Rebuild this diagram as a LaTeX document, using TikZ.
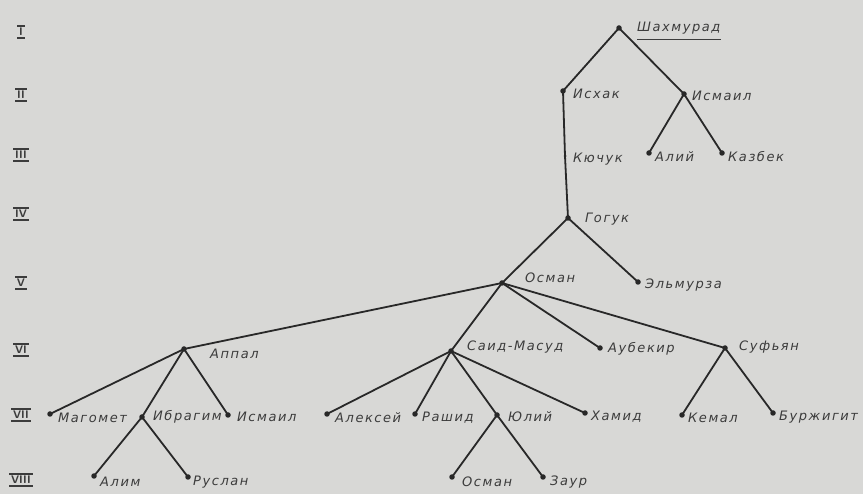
\documentclass[tikz,border=0pt]{standalone}
\usepackage{fontspec}
\newfontfamily\lblfont[LetterSpace=12]{DejaVu Sans}
\definecolor{bg}{RGB}{216,216,214}
\definecolor{ink}{RGB}{40,40,40}
\definecolor{txt}{RGB}{60,60,60}
\begin{document}
\begin{tikzpicture}[x=1pt,y=-1pt,
  dot/.style={circle,fill=ink,inner sep=0pt,minimum size=5.5pt},
  edge/.style={draw=ink,line width=1.8pt},
  person/.style={anchor=west,inner sep=0pt,text=txt,font=\lblfont\itshape\fontsize{13}{15}\selectfont},
  roman/.style={inner xsep=1.5pt,inner ysep=2pt,text=txt,font=\fontsize{11}{12}\selectfont\sffamily\bfseries}]
\path[fill=bg] (0,0) rectangle (863,494);
\useasboundingbox (0,0) rectangle (863,494);
% level marks
\foreach \n/\t/\yy in {r1/I/32,r2/II/95,r3/III/155,r4/IV/214,r5/V/283,r6/VI/350,r7/VII/415,r8/VIII/480}{
  \node[roman] (\n) at (21,\yy) {\t};
  \draw[txt,line width=1.1pt] (\n.north west) -- (\n.north east);
  \draw[txt,line width=1.1pt] (\n.south west) -- (\n.south east);
}
% dots
\node[dot] (shah) at (619,28) {};
\node[dot] (isxak) at (563,91) {};
\node[dot] (ismail) at (684,94) {};
\node[dot] (aliy) at (649,153) {};
\node[dot] (kazbek) at (722,153) {};
\node[dot,minimum size=3pt] (kuchuk) at (565,156) {};
\node[dot] (goguk) at (568,218) {};
\node[dot] (osman) at (502,283) {};
\node[dot] (elmurza) at (638,282) {};
\node[dot] (appal) at (184,349) {};
\node[dot] (said) at (451,351) {};
\node[dot] (aubekir) at (600,348) {};
\node[dot] (sufyan) at (725,348) {};
\node[dot] (magomet) at (50,414) {};
\node[dot] (ibragim) at (142,417) {};
\node[dot] (ismail2) at (228,415) {};
\node[dot] (aleksey) at (327,414) {};
\node[dot] (rashid) at (415,414) {};
\node[dot] (yuliy) at (497,415) {};
\node[dot] (hamid) at (585,413) {};
\node[dot] (kemal) at (682,415) {};
\node[dot] (burzhigit) at (773,413) {};
\node[dot] (alim) at (94,476) {};
\node[dot] (ruslan) at (188,477) {};
\node[dot] (osman2) at (452,477) {};
\node[dot] (zaur) at (543,477) {};
% edges
\draw[edge] (shah.center) -- (isxak.center);
\draw[edge] (shah.center) -- (ismail.center);
\draw[edge] (isxak.center) -- (kuchuk.center);
\draw[edge] (ismail.center) -- (aliy.center);
\draw[edge] (ismail.center) -- (kazbek.center);
\draw[edge] (kuchuk.center) -- (goguk.center);
\draw[edge] (goguk.center) -- (osman.center);
\draw[edge] (goguk.center) -- (elmurza.center);
\draw[edge] (osman.center) -- (appal.center);
\draw[edge] (osman.center) -- (said.center);
\draw[edge] (osman.center) -- (aubekir.center);
\draw[edge] (osman.center) -- (sufyan.center);
\draw[edge] (appal.center) -- (magomet.center);
\draw[edge] (appal.center) -- (ibragim.center);
\draw[edge] (appal.center) -- (ismail2.center);
\draw[edge] (ibragim.center) -- (alim.center);
\draw[edge] (ibragim.center) -- (ruslan.center);
\draw[edge] (said.center) -- (aleksey.center);
\draw[edge] (said.center) -- (rashid.center);
\draw[edge] (said.center) -- (yuliy.center);
\draw[edge] (said.center) -- (hamid.center);
\draw[edge] (yuliy.center) -- (osman2.center);
\draw[edge] (yuliy.center) -- (zaur.center);
\draw[edge] (sufyan.center) -- (kemal.center);
\draw[edge] (sufyan.center) -- (burzhigit.center);
% labels
\node[person] (shahL) at (637,28) {Шахмурад};
\draw[txt,line width=1pt] (shahL.south west) ++(0,5) coordinate (ulA) -- (ulA -| shahL.south east);
\node[person] at (573,94) {Исхак};
\node[person] at (692,96) {Исмаил};
\node[person] at (655,157) {Алий};
\node[person] at (728,157) {Казбек};
\node[person] at (573,159) {Кючук};
\node[person] at (585,219) {Гогук};
\node[person] at (525,278) {Осман};
\node[person] at (645,285) {Эльмурза};
\node[person] at (210,354) {Аппал};
\node[person] at (467,347) {Саид-Масуд};
\node[person] at (608,349) {Аубекир};
\node[person] at (739,347) {Суфьян};
\node[person] at (58,418) {Магомет};
\node[person] at (153,417) {Ибрагим};
\node[person] at (237,417) {Исмаил};
\node[person] at (335,418) {Алексей};
\node[person] at (422,418) {Рашид};
\node[person] at (508,417) {Юлий};
\node[person] at (591,417) {Хамид};
\node[person] at (688,418) {Кемал};
\node[person] at (779,417) {Буржигит};
\node[person] at (100,482) {Алим};
\node[person] at (193,482) {Руслан};
\node[person] at (462,482) {Осман};
\node[person] at (550,482) {Заур};
\end{tikzpicture}
\end{document}
